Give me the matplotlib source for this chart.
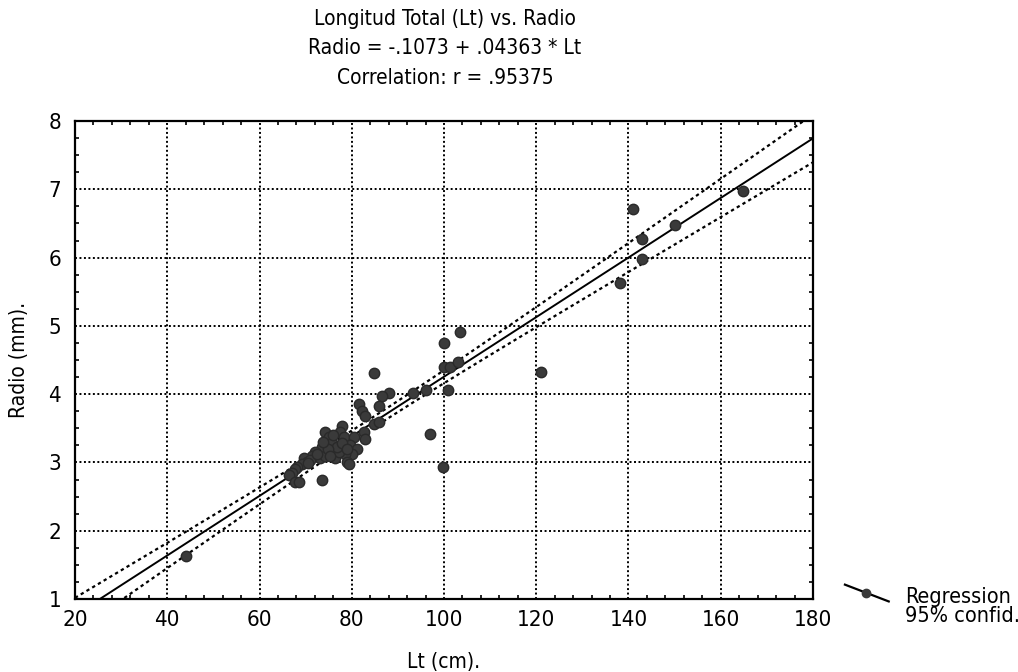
import numpy as np
import matplotlib
matplotlib.use("Agg")
import matplotlib.pyplot as plt
from matplotlib.lines import Line2D
from matplotlib.ticker import MultipleLocator

plt.rcParams['font.family'] = ['DejaVu Sans']
plt.rcParams['font.stretch'] = 'condensed'

# valores: Lt (cm) y Radio (mm)
lt = np.array([
    44.0, 164.8, 141.0, 150.1, 143.0, 143.0, 138.2, 121.0, 103.5, 100.0,
    100.0, 101.2, 103.0, 93.3, 96.1, 100.9, 97.0, 99.8, 88.1, 84.8,
    86.5, 86.0, 81.5, 82.2, 82.8, 84.8, 86.0, 77.8, 77.4, 78.3,
    74.2, 75.0, 75.7, 80.4, 79.6, 81.1, 80.0, 82.6, 82.8, 78.5,
    78.9, 73.5, 72.0, 71.4, 73.1, 74.2, 75.7, 76.3, 69.6, 70.3,
    69.2, 68.1, 67.7, 67.0, 66.4, 67.7, 68.6, 73.5, 79.4, 77.2,
    71.0, 72.5, 76.8, 74.8, 76.0, 75.2, 70.6, 77.9, 79.0, 73.8,
])
radio = np.array([
    1.63, 6.97, 6.71, 6.48, 6.27, 5.98, 5.63, 4.32, 4.91, 4.75,
    4.40, 4.40, 4.47, 4.02, 4.06, 4.06, 3.42, 2.93, 4.02, 4.31,
    3.97, 3.83, 3.86, 3.75, 3.68, 3.56, 3.59, 3.53, 3.44, 3.37,
    3.45, 3.37, 3.29, 3.37, 3.26, 3.19, 3.12, 3.45, 3.34, 3.12,
    3.00, 3.22, 3.16, 3.09, 3.07, 3.09, 3.15, 3.07, 3.07, 3.01,
    2.97, 2.94, 2.90, 2.85, 2.82, 2.71, 2.72, 2.75, 2.97, 3.16,
    3.03, 3.12, 3.22, 3.20, 3.40, 3.10, 2.99, 3.28, 3.20, 3.30,
])

# recta de regresión indicada en el título
b0 = -0.1073
b1 = 0.04363

xs = np.linspace(20, 180, 200)
fit = b0 + b1 * xs

# banda de confianza del 95% para la media
n = len(lt)
resid = radio - (b0 + b1 * lt)
s = np.sqrt(np.sum(resid ** 2) / (n - 2))
sxx = np.sum((lt - lt.mean()) ** 2)
half = 2.2 * s * np.sqrt(1.0 / n + (xs - lt.mean()) ** 2 / sxx)

fig = plt.figure(figsize=(10.18, 6.72), dpi=100)
ax = fig.add_axes([0.0737, 0.1086, 0.7249, 0.7113])

ax.plot(xs, fit, color='black', lw=1.4, zorder=3)
ax.plot(xs, fit + half, color='black', lw=1.6, ls=(0, (1.5, 1.5)), zorder=3)
ax.plot(xs, fit - half, color='black', lw=1.6, ls=(0, (1.5, 1.5)), zorder=3)
ax.plot(lt, radio, 'o', color='#3a3a3a', ms=7.5, mec='#2a2a2a', zorder=4)

ax.set_xlim(20, 180)
ax.set_ylim(1, 8)
ax.xaxis.set_major_locator(MultipleLocator(20))
ax.xaxis.set_minor_locator(MultipleLocator(4))
ax.yaxis.set_major_locator(MultipleLocator(1))
ax.yaxis.set_minor_locator(MultipleLocator(0.25))
ax.tick_params(which='both', direction='in', top=True, right=True, color='black')
ax.tick_params(which='major', length=0, labelsize=16)
ax.tick_params(axis='y', which='major', pad=10)
ax.tick_params(axis='x', which='major', pad=8)
ax.tick_params(which='minor', length=3, width=1.2)
ax.grid(True, which='major', color='black', ls=(0, (1, 1.3)), lw=1.4)
for sp in ax.spines.values():
    sp.set_linewidth(1.6)

ax.set_xlabel('Lt (cm).', fontsize=15, labelpad=16)
ax.set_ylabel('Radio (mm).', fontsize=15, labelpad=14)

fig.text(0.437, 0.972, 'Longitud Total (Lt) vs. Radio', ha='center', va='center', fontsize=15)
fig.text(0.437, 0.928, 'Radio = -.1073 + .04363 * Lt', ha='center', va='center', fontsize=15)
fig.text(0.437, 0.884, 'Correlation: r = .95375', ha='center', va='center', fontsize=15)

# leyenda dibujada a mano como en el original
fig.add_artist(Line2D([0.830, 0.873], [0.130, 0.105], color='black', lw=1.6,
                      transform=fig.transFigure))
fig.add_artist(Line2D([0.851], [0.118], marker='o', ms=6, color='#3a3a3a',
                      transform=fig.transFigure))
fig.text(0.889, 0.111, 'Regression', fontsize=15.5, va='center')
fig.text(0.889, 0.083, '95% confid.', fontsize=15.5, va='center')

fig.savefig('out.png', dpi=100)
